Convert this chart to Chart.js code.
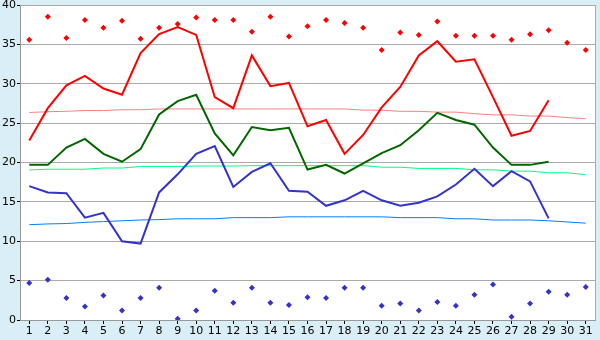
<!DOCTYPE html>
<html>
<head>
<meta charset="utf-8">
<script src="https://cdn.jsdelivr.net/npm/chart.js@4/dist/chart.umd.min.js"></script>
<style>
html,body{margin:0;padding:0;background:#d9eef6;}
#wrap{width:600px;height:340px;position:relative;}
</style>
</head>
<body>
<div id="wrap"><canvas id="c"></canvas></div>
<script>
const days = ['1','2','3','4','5','6','7','8','9','10','11','12','13','14','15','16','17','18','19','20','21','22','23','24','25','26','27','28','29','30','31'];

const recordHigh = [35.6,38.5,35.8,38.1,37.1,38.0,35.7,37.1,37.6,38.4,38.1,38.1,36.6,38.5,36.0,37.3,38.1,37.7,37.1,34.3,36.5,36.2,37.9,36.1,36.1,36.1,35.6,36.3,36.8,35.2,34.3];
const maxTemp = [22.8,26.9,29.8,31.0,29.4,28.6,33.9,36.3,37.2,36.2,28.3,26.9,33.6,29.7,30.1,24.6,25.4,21.1,23.5,27.0,29.6,33.6,35.4,32.8,33.1,28.3,23.4,24.0,27.9,null,null];
const normalMax = [26.35,26.45,26.5,26.6,26.6,26.7,26.7,26.8,26.8,26.8,26.8,26.8,26.8,26.8,26.8,26.8,26.8,26.8,26.65,26.65,26.5,26.5,26.4,26.4,26.2,26.05,26.05,25.9,25.9,25.7,25.55];

const meanTemp = [19.7,19.7,21.9,23.0,21.1,20.1,21.7,26.1,27.8,28.6,23.7,20.9,24.5,24.1,24.4,19.1,19.7,18.6,19.9,21.2,22.2,24.1,26.3,25.4,24.8,21.9,19.7,19.7,20.1,null,null];
const normalMean = [19.05,19.15,19.15,19.15,19.3,19.3,19.5,19.5,19.5,19.55,19.55,19.55,19.6,19.6,19.6,19.6,19.6,19.6,19.6,19.4,19.4,19.25,19.25,19.25,19.07,19.07,18.9,18.9,18.7,18.7,18.45];

const minTemp = [17.0,16.2,16.1,13.0,13.6,10.0,9.7,16.2,18.5,21.1,22.1,16.9,18.8,19.9,16.4,16.3,14.5,15.2,16.4,15.2,14.5,14.9,15.7,17.2,19.2,17.0,18.9,17.6,12.9,null,null];
const normalMin = [12.1,12.2,12.25,12.4,12.5,12.6,12.7,12.75,12.85,12.85,12.85,13.0,13.0,13.0,13.1,13.1,13.1,13.1,13.1,13.1,13.0,13.0,13.0,12.85,12.85,12.7,12.7,12.7,12.6,12.45,12.3];
const recordLow = [4.7,5.1,2.8,1.7,3.1,1.2,2.8,4.1,0.15,1.2,3.7,2.2,4.1,2.2,1.9,2.9,2.8,4.1,4.1,1.8,2.1,1.2,2.3,1.8,3.2,4.5,0.4,2.1,3.6,3.2,4.2];

const yTicks = [0,5,10,15,20,25,30,35,40];

const bgPlugin = {
  id: 'bg',
  beforeDraw(chart) {
    const {ctx, chartArea: a} = chart;
    ctx.save();
    ctx.fillStyle = '#d9eef6';
    ctx.fillRect(0, 0, chart.width, chart.height);
    ctx.fillStyle = '#ffffff';
    ctx.fillRect(a.left, a.top, a.right - a.left, a.bottom - a.top);
    ctx.restore();
  },
  afterDraw(chart) {
    const {ctx, chartArea: a} = chart;
    ctx.save();
    ctx.strokeStyle = '#aaaaaa';
    ctx.lineWidth = 1;
    ctx.beginPath();
    ctx.moveTo(Math.round(a.right) + 0.5, a.top);
    ctx.lineTo(Math.round(a.right) + 0.5, a.bottom);
    ctx.stroke();
    ctx.restore();
  }
};

function line(data, color, width) {
  return {type:'line', data, borderColor: color, backgroundColor: color, borderWidth: width,
          pointRadius: 0, fill: false, tension: 0, spanGaps: false};
}
function dots(data, color) {
  return {type:'line', data, borderColor: color, backgroundColor: color, showLine: false,
          pointStyle: 'rectRot', pointRadius: 3, pointBorderWidth: 0};
}

new Chart(document.getElementById('c'), {
  type: 'line',
  data: {
    labels: days,
    datasets: [
      dots(recordHigh, '#ff0000'),
      dots(recordLow, '#3333cc'),
      line(maxTemp, '#ff0000', 2),
      line(meanTemp, '#006600', 2),
      line(minTemp, '#3333cc', 2),
      line(normalMax, '#ff8080', 1),
      line(normalMean, '#00ff80', 1),
      line(normalMin, '#0080ff', 1)
    ]
  },
  options: {
    responsive: true,
    maintainAspectRatio: false,
    animation: false,
    layout: {padding: {top: 5, right: 5, left: 0, bottom: 0}},
    plugins: {legend: {display: false}, tooltip: {enabled: false}},
    scales: {
      x: {
        type: 'category',
        offset: true,
        grid: {display: true, drawOnChartArea: false, drawTicks: true, tickLength: 4, tickColor: '#000000', offset: false},
        border: {display: true, color: '#999999'},
        ticks: {color: '#000000', font: {family: 'DejaVu Sans', size: 11}, padding: 1, maxRotation: 0, autoSkip: false},
        afterFit(s) { s.height = 20; s.paddingLeft = 0; s.paddingRight = 0; }
      },
      y: {
        min: 0, max: 40,
        afterBuildTicks(s) { s.ticks = yTicks.map(v => ({value: v})); },
        grid: {color: '#aaaaaa', drawTicks: true, tickLength: 3, tickColor: '#000000'},
        border: {display: true, color: '#999999'},
        ticks: {color: '#000000', font: {family: 'DejaVu Sans', size: 11}, padding: 1},
        afterFit(s) { s.width = 20; s.paddingTop = 0; s.paddingBottom = 0; }
      }
    }
  },
  plugins: [bgPlugin]
});
</script>
</body>
</html>
